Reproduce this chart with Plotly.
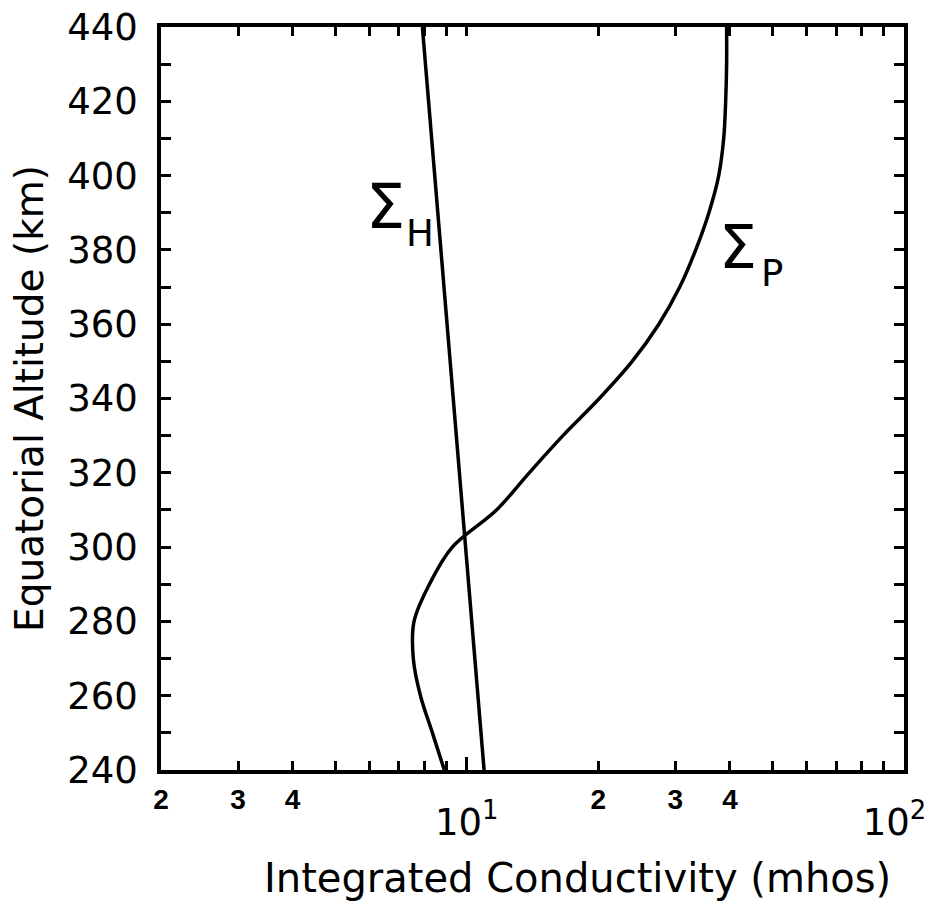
import math
import plotly.graph_objects as go

# Altitude (km) and integrated conductivities (mhos)
alt_p = [240, 250, 260, 270, 280, 290, 300, 310, 320, 330, 340, 350, 360,
         370, 380, 390, 400, 410, 420, 430, 440]
sigma_p = [8.89, 8.35, 7.84, 7.55, 7.58, 8.22, 9.27, 11.7, 13.9, 16.6, 20.1,
           23.9, 27.5, 30.7, 33.4, 35.8, 37.7, 38.7, 39.1, 39.3, 39.3]

alt_h = [240, 300, 440]
sigma_h = [10.96, 9.93, 7.92]

x_minor_vals = [2, 3, 4, 5, 6, 7, 8, 9, 10, 20, 30, 40, 50, 60, 70, 80, 90, 100]
x_minor_text = ["2", "3", "4", "", "", "", "", "", "", "2", "3", "4", "", "", "", "", "", ""]
x_decade_vals = [10, 100]
x_decade_text = ["10<sup>1</sup>", "10<sup>2</sup>\u00a0\u2009"]

y_vals = list(range(240, 441, 10))
y_text = [str(v) if (v - 240) % 20 == 0 else "" for v in y_vals]

FONT = "DejaVu Sans"
BLACK = "black"

fig = go.Figure()
fig.add_trace(go.Scatter(x=sigma_p, y=alt_p, mode="lines",
                         line=dict(color=BLACK, width=3.5, shape="spline", smoothing=1.0),
                         showlegend=False, xaxis="x", yaxis="y"))
fig.add_trace(go.Scatter(x=sigma_h, y=alt_h, mode="lines",
                         line=dict(color=BLACK, width=3.5), showlegend=False,
                         xaxis="x2", yaxis="y"))

xr = [math.log10(2), 2]

fig.update_layout(
    width=934, height=909,
    margin=dict(l=161, r=30, t=27, b=139, autoexpand=False),
    paper_bgcolor="white", plot_bgcolor="white",
    xaxis=dict(type="log", range=xr, tickmode="array", tickvals=x_minor_vals,
               ticktext=x_minor_text, ticks="inside", ticklen=9, tickwidth=2.5,
               tickcolor=BLACK, showline=True, linewidth=3.5, linecolor=BLACK,
               mirror="ticks", showgrid=False, zeroline=False, automargin=False,
               ticklabeloverflow="allow",
               tickfont=dict(family="Liberation Sans", size=28, color=BLACK, weight="bold"),
               ticklabelstandoff=2),
    xaxis2=dict(type="log", range=xr, overlaying="x", anchor="y", side="bottom",
                tickmode="array", tickvals=x_decade_vals, ticktext=x_decade_text,
                ticks="inside", ticklen=13, tickwidth=2.5, tickcolor=BLACK,
                showline=False, showgrid=False, zeroline=False, automargin=False,
                ticklabeloverflow="allow",
                tickfont=dict(family=FONT, size=37, color=BLACK),
                ticklabelstandoff=27),
    yaxis=dict(range=[240, 440], tickmode="array", tickvals=y_vals, ticktext=y_text,
               ticks="inside", ticklen=10, tickwidth=2.5, tickcolor=BLACK,
               showline=True, linewidth=3.5, linecolor=BLACK, mirror="ticks",
               showgrid=False, zeroline=False, automargin=False,
               ticklabeloverflow="allow",
               tickfont=dict(family=FONT, size=37, color=BLACK),
               ticklabelstandoff=12),
)

annots = [
    dict(text="Integrated Conductivity (mhos)", x=0.561, y=-0.146,
         font=dict(family=FONT, size=40, color=BLACK)),
    dict(text="Equatorial Altitude (km)", x=-0.177, y=0.5, textangle=-90,
         font=dict(family=FONT, size=39, color=BLACK)),
    dict(text="Σ", x=0.302, y=0.758, font=dict(family=FONT, size=62, color=BLACK)),
    dict(text="H", x=0.348, y=0.722, font=dict(family=FONT, size=37, color=BLACK)),
    dict(text="Σ", x=0.777, y=0.704, font=dict(family=FONT, size=60, color=BLACK)),
    dict(text="P", x=0.822, y=0.668, font=dict(family=FONT, size=37, color=BLACK)),
]
for a in annots:
    fig.add_annotation(xref="paper", yref="paper", showarrow=False,
                       xanchor="center", yanchor="middle", **a)

fig.write_html("out.html", config={"displayModeBar": False},
               post_script="document.body.style.margin='0';document.body.style.overflow='hidden';")
